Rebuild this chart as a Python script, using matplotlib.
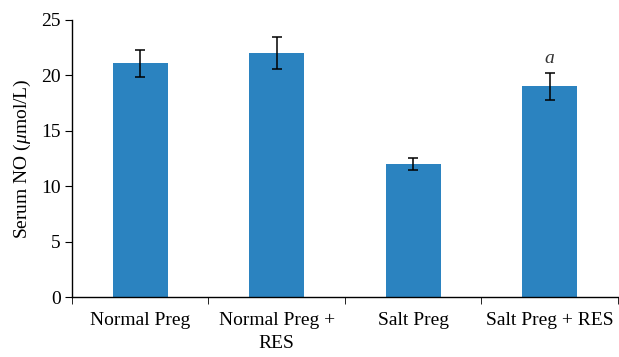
import numpy as np
import matplotlib.pyplot as plt

plt.rcParams['font.family'] = ['Liberation Serif', 'DejaVu Serif']
plt.rcParams['mathtext.fontset'] = 'custom'
plt.rcParams['mathtext.it'] = 'Liberation Serif:italic'
plt.rcParams['mathtext.rm'] = 'Liberation Serif'

# data
groups = ["Normal Preg", "Normal Preg +\nRES", "Salt Preg", "Salt Preg + RES"]
no_mean = [21.1, 22.0, 12.0, 19.0]
no_err = [1.2, 1.45, 0.55, 1.2]
marks = ["", "", "", "a"]

fig = plt.figure(figsize=(6.19, 3.57), dpi=100)
ax = fig.add_axes([0.1163, 0.168, 0.882, 0.776])

x = np.arange(len(groups))
ax.bar(x, no_mean, width=0.40, color="#2B83C0", zorder=2)
ax.errorbar(x, no_mean, yerr=no_err, fmt="none", ecolor="black",
            elinewidth=1.1, capsize=3.8, capthick=1.1, zorder=3)
for xi, m, e, s in zip(x, no_mean, no_err, marks):
    if s:
        ax.text(xi, m + e + 0.6, s, ha="center", va="bottom",
                fontsize=14, style="italic", color="#333333")

ax.set_xlim(-0.5, len(groups) - 0.5)
ax.set_ylim(0, 25)
ax.set_yticks(np.arange(0, 26, 5))
ax.set_xticks(x)
ax.set_xticklabels(groups, fontsize=14, linespacing=1.45)
ax.set_xticks(np.arange(-0.5, len(groups), 1), minor=True)
ax.tick_params(axis="x", which="major", length=0, pad=11)
ax.tick_params(axis="x", which="minor", length=5, direction="out")
ax.tick_params(axis="y", labelsize=14, length=5, direction="out", pad=3)
ax.set_ylabel(r"Serum NO ($\mathit{\mu}$mol/L)", fontsize=14, labelpad=6)

for side in ["top", "right"]:
    ax.spines[side].set_visible(False)
for side in ["left", "bottom"]:
    ax.spines[side].set_linewidth(1.0)

fig.savefig("out.png", dpi=100)
